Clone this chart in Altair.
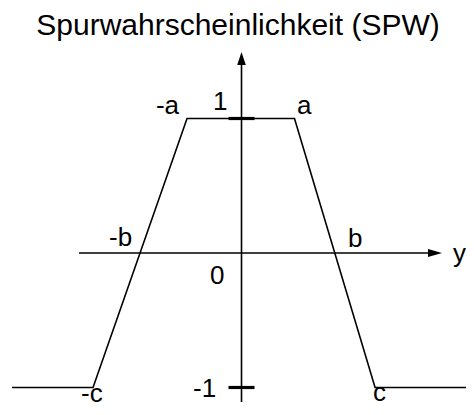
import altair as alt
import pandas as pd

# ---- data (units: value axis 1 = one step; x in same units) ----
curve_x = [-1.706, -1.104, -0.405, 0.394, 0.993, 1.75]
curve_y = [-1, -1, 1, 1, -1, -1]

h_axis_x = [-1.208, 1.40]      # horizontal axis (y)
v_axis_y = [-1.108, 1.41]      # vertical axis (SPW)

h_arrow_x = [1.3866, 1.4907]
h_arrow_lo = [-0.029, 0.0]
h_arrow_hi = [0.029, 0.0]
v_arrow_y = [1.3978, 1.4944]
v_arrow_lo = [-0.032, 0.0]
v_arrow_hi = [0.032, 0.0]

tick_values = [1, -1]
tick_half = 0.0967

labels = ["-a", "1", "a", "-b", "b", "0", "y", "-1", "-c", "c"]
label_x = [-0.636, -0.212, 0.413, -0.985, 0.792, -0.234, 1.572, -0.360, -1.193, 0.978]
label_y = [1.033, 1.063, 1.033, 0.052, 0.045, -0.2305, -0.067, -1.071, -1.108, -1.104]

title_text = "Spurwahrscheinlichkeit (SPW)"
title_x = [-0.026]
title_y = [1.622]

# ---- scales ----
xs = alt.Scale(domain=[-1.7361, 1.6691], nice=False, zero=False)
ys = alt.Scale(domain=[-1.145, 1.8216], nice=False, zero=False)

def X(f, **kw):
    return alt.X(f, type="quantitative", scale=xs, axis=None, **kw)

def Y(f, **kw):
    return alt.Y(f, type="quantitative", scale=ys, axis=None, **kw)

BLACK = "#000000"
SW = 1.6

curve_df = pd.DataFrame({"x": curve_x, "y": curve_y, "i": list(range(len(curve_x)))})
curve = alt.Chart(curve_df).mark_line(color=BLACK, strokeWidth=SW, clip=True).encode(
    x=X("x"), y=Y("y"), order=alt.Order("i:Q")
)

hax_df = pd.DataFrame({"x": [h_axis_x[0]], "x2": [h_axis_x[1]], "y": [0.0]})
hax = alt.Chart(hax_df).mark_rule(color=BLACK, strokeWidth=SW).encode(
    x=X("x"), x2="x2", y=Y("y")
)

vax_df = pd.DataFrame({"x": [0.0], "y": [v_axis_y[0]], "y2": [v_axis_y[1]]})
vax = alt.Chart(vax_df).mark_rule(color=BLACK, strokeWidth=SW).encode(
    x=X("x"), y=Y("y"), y2="y2"
)

harr_df = pd.DataFrame({"x": h_arrow_x, "lo": h_arrow_lo, "hi": h_arrow_hi})
harr = alt.Chart(harr_df).mark_area(color=BLACK, orient="vertical").encode(
    x=X("x"), y=Y("lo"), y2="hi"
)

varr_df = pd.DataFrame({"y": v_arrow_y, "lo": v_arrow_lo, "hi": v_arrow_hi})
varr = alt.Chart(varr_df).mark_area(color=BLACK, orient="horizontal").encode(
    y=Y("y"), x=X("lo"), x2="hi"
)

tick_df = pd.DataFrame({"x": [-tick_half] * 2, "x2": [tick_half] * 2, "y": tick_values})
ticks = alt.Chart(tick_df).mark_rule(color=BLACK, strokeWidth=3.2).encode(
    x=X("x"), x2="x2", y=Y("y")
)

lab_df = pd.DataFrame({"t": labels, "x": label_x, "y": label_y})
labs = alt.Chart(lab_df).mark_text(
    align="left", baseline="alphabetic", fontSize=26, font="Liberation Sans", color=BLACK
).encode(x=X("x"), y=Y("y"), text="t:N")

title_df = pd.DataFrame({"t": [title_text], "x": title_x, "y": title_y})
title = alt.Chart(title_df).mark_text(
    align="center", baseline="alphabetic", fontSize=30, font="Liberation Sans", color=BLACK
).encode(x=X("x"), y=Y("y"), text="t:N")

chart = alt.layer(curve, hax, vax, harr, varr, ticks, labs, title).properties(
    width=458, height=399, autosize="none", padding=0, background="white"
).configure_view(stroke=None)

chart.save("out.html", embed_options={"renderer": "svg", "actions": False})
